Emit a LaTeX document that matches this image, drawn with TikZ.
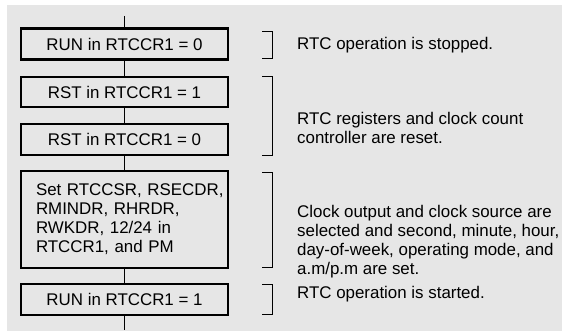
\documentclass[tikz,border=0pt]{standalone}
\usepackage{fontspec}
\setmainfont{Liberation Sans}
\definecolor{bggray}{RGB}{230,230,230}
\begin{document}
\begin{tikzpicture}[x=1pt,y=-1pt,
  txt/.style={font=\fontsize{16.9}{19}\selectfont},
  stepbox/.style={txt,draw=black,line width=2.2pt,fill=bggray,minimum width=207pt,minimum height=31pt,inner sep=0pt},
  bigbox/.style={txt,draw=black,line width=1.8pt,fill=bggray,text width=199.5pt,inner xsep=3.75pt,inner ysep=0pt,minimum height=97pt,align=left},
  conn/.style={line width=1.1pt},
  brk/.style={line width=1pt},
  note/.style={txt,anchor=west,align=left,inner sep=0pt}]
\useasboundingbox (0,0) rectangle (562,334);
\fill[bggray] (7,5) rectangle (562,331);
\coordinate (top) at (124.5,16);
\coordinate (bot) at (124.5,330);
\node[stepbox] (b1) at (124.5,44) {RUN in RTCCR1 = 0};
\node[stepbox,minimum height=30pt] (b2) at (124.5,92) {RST in RTCCR1 = 1};
\node[stepbox] (b3) at (124.5,139.5) {RST in RTCCR1 = 0};
\node[bigbox] (b4) at (124.5,219.5) {\hspace*{11.25pt}Set RTCCSR, RSECDR,\\\hspace*{11.25pt}RMINDR, RHRDR,\\\hspace*{11.25pt}RWKDR, 12/24 in\\\hspace*{11.25pt}RTCCR1, and PM};
\node[stepbox] (b5) at (124.5,299.5) {RUN in RTCCR1 = 1};
\draw[conn] (top) -- (b1);
\draw[conn] (b1) -- (b2);
\draw[conn] (b2) -- (b3);
\draw[conn] (b3) -- (b4);
\draw[conn] (b4) -- (b5);
\draw[conn] (b5) -- (bot);
\draw[brk] (262,32) -- (272,32) -- (272,59) -- (262,59);
\draw[brk] (262,77) -- (272,77) -- (272,155) -- (262,155);
\draw[brk] (262,172) -- (272,172) -- (272,267) -- (262,267);
\draw[brk] (262,284) -- (272,284) -- (272,314) -- (262,314);
\node[note] (t1) at (297,45) {RTC operation is stopped.};
\node[note] (t2) at (297,127.5) {RTC registers and clock count\\controller are reset.};
\node[note] (t3) at (297,242) {Clock output and clock source are\\selected and second, minute, hour,\\day-of-week, operating mode, and\\a.m/p.m are set.};
\node[note] (t4) at (297,294) {RTC operation is started.};
\end{tikzpicture}
\end{document}
